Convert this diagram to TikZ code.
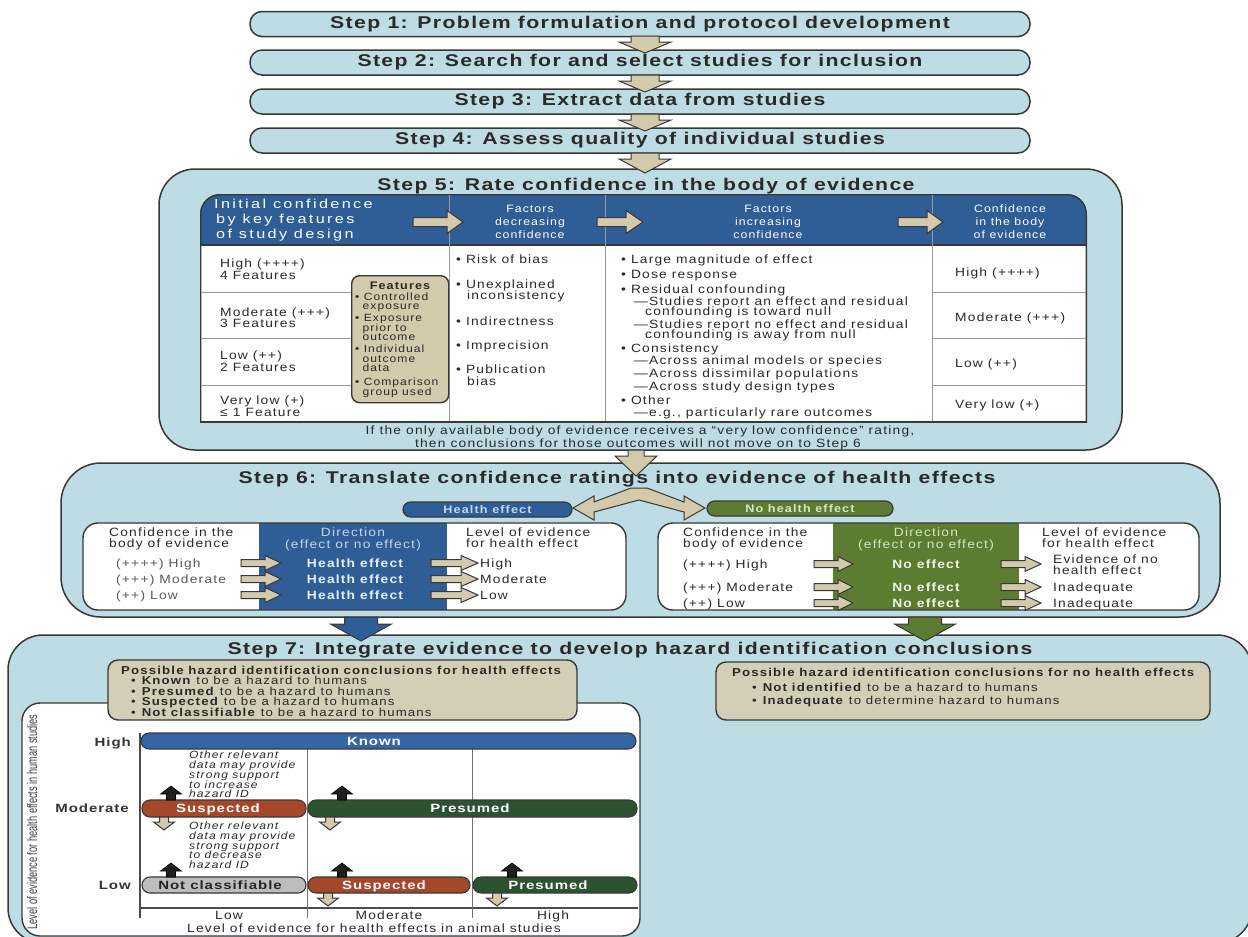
\documentclass[tikz,border=0pt]{standalone}
\usepackage{fontspec}
\setmainfont{Liberation Sans}
\newfontfamily\bodyf[FakeStretch=1.15,LetterSpace=10]{Liberation Sans}
\newfontfamily\headf[FakeStretch=1.25,LetterSpace=18]{Liberation Sans}
\newfontfamily\titlef[FakeStretch=1.25,LetterSpace=8]{Liberation Sans}
\newfontfamily\condf[FakeStretch=0.66]{Liberation Sans}
\usetikzlibrary{calc}
\definecolor{lblue}{HTML}{BDDCE3}
\definecolor{outl}{HTML}{383838}
\definecolor{tanc}{HTML}{D3C9AB}
\definecolor{tanbox}{HTML}{D5CEB6}
\definecolor{hblue}{HTML}{2F5D96}
\definecolor{kblue}{HTML}{3565A5}
\definecolor{ngreen}{HTML}{5C7C31}
\definecolor{sred}{HTML}{A5482A}
\definecolor{pgreen}{HTML}{2D5230}
\definecolor{ncgray}{HTML}{BDBDBD}
\definecolor{txt}{HTML}{2A2A2A}
\definecolor{divc}{HTML}{9A9A9A}
\definecolor{lhb}{HTML}{C4D6EC}
\definecolor{lhg}{HTML}{D8E4C4}
\newcommand\fsz[2]{\fontsize{#1}{#2}\selectfont}
\newcounter{lnc}
\newcommand\Ln[4][]{\stepcounter{lnc}\node[anchor=base west,inner sep=0,#1] (ln\arabic{lnc}) at (#2,#3) {#4};}
\newcommand\Lc[4][]{\stepcounter{lnc}\node[anchor=base,inner sep=0,#1] (ln\arabic{lnc}) at (#2,#3) {#4};}
\newcommand\Lr[4][]{\stepcounter{lnc}\node[anchor=base east,inner sep=0,#1] (ln\arabic{lnc}) at (#2,#3) {#4};}
\newcommand\VArr[7]{\draw[#1] (#2-#5,#3) -- (#2+#5,#3) -- (#2+#5,#4) -- (#2+#6,#4) -- (#2,#7) -- (#2-#6,#4) -- (#2-#5,#4) -- cycle;}
\newcommand\HArr[7]{\draw[#1] (#3,#2-#5) -- (#4,#2-#5) -- (#4,#2-#6) -- (#7,#2) -- (#4,#2+#6) -- (#4,#2+#5) -- (#3,#2+#5) -- cycle;}
\tikzset{
  cont/.style={fill=lblue, draw=outl, line width=1.5, inner sep=0},
  pill/.style={fill=lblue, draw=outl, line width=1.5, rounded corners=12, minimum width=780, minimum height=25, inner sep=0, font=\titlef\bfseries\fsz{17}{17}, text=txt},
  tanarr/.style={fill=tanc, draw=outl, line width=1},
  blkarr/.style={fill=black!88, draw=black, line width=0.6},
  tbox/.style={fill=tanbox, draw=outl, line width=1.4, rounded corners=10, inner sep=0},
  cpill/.style={draw=outl, line width=1.1, rounded corners=8, inner sep=0},
  hpill/.style={draw=outl, line width=1.2, rounded corners=7.5, inner sep=0, minimum height=15},
  ttl/.style={font=\titlef\bfseries\fsz{17}{17}, text=txt},
  bt/.style={font=\bodyf\fsz{12}{12}, text=txt},
  hd/.style={font=\bodyf\fsz{10.7}{11}, text=white},
  ft/.style={font=\bodyf\fsz{10.5}{10}, text=txt},
  tb/.style={font=\bodyf\fsz{11.5}{11}, text=txt},
  it/.style={font=\bodyf\itshape\fsz{10.5}{10}, text=txt},
  pl/.style={font=\titlef\bfseries\fsz{12}{12}, text=white},
}
\begin{document}
\begin{tikzpicture}[x=1pt,y=-1pt]
\fill[white] (0,0) rectangle (1248,937);
\useasboundingbox (0,0) rectangle (1248,937);

% ---------- containers
\node[cont, rounded corners=35, minimum width=1244, minimum height=308] (c7) at (630,789) {};
\node[cont, rounded corners=40, minimum width=1159, minimum height=154] (c6) at (640.5,540) {};
\node[cont, rounded corners=36, minimum width=963, minimum height=281] (c5) at (640.5,309.5) {};

% ---------- steps 1-4
\node[pill] (s1) at (640,24) {Step 1: Problem formulation and protocol development};
\node[pill] (s2) at (640,62.5) {Step 2: Search for and select studies for inclusion};
\node[pill] (s3) at (640,101.5) {Step 3: Extract data from studies};
\node[pill] (s4) at (640,140.5) {Step 4: Assess quality of individual studies};
\VArr{tanarr}{645}{36}{42}{14}{26}{53}
\VArr{tanarr}{645}{75}{81}{14}{26}{92}
\VArr{tanarr}{645}{114}{120}{14}{26}{131}
\VArr{tanarr}{645}{153}{159}{14}{26}{173}

% ---------- step 5
\Lc[ttl]{646}{190}{Step 5: Rate confidence in the body of evidence}
\begin{scope}
  \clip (150,150) rectangle (1100,422);
  \clip[rounded corners=20] (200,194) rectangle (1087,480);
  \fill[white] (200,194) rectangle (1087,422);
  \fill[hblue] (200,194) rectangle (1087,245);
  \draw[outl, line width=2.8, rounded corners=20] (200,194) rectangle (1087,480);
\end{scope}
\draw[outl, line width=1.4] (200,422) -- (1087,422);
\draw[outl, line width=1.2] (200,245) -- (1087,245);
\foreach \xx in {449,605,932} \draw[divc, line width=1] (\xx,195) -- (\xx,421);
\foreach \yy in {292,338,385} {\draw[divc, line width=1] (201,\yy) -- (351,\yy); \draw[divc, line width=1] (932,\yy) -- (1086,\yy);}
% header texts
\Ln[font=\headf\fsz{13}{13}, text=white]{214}{208}{Initial confidence}
\Ln[font=\headf\fsz{13}{13}, text=white]{216}{223.5}{by key features}
\Ln[font=\headf\fsz{13}{13}, text=white]{216}{238.5}{of study design}
\Lc[hd]{530}{212.5}{Factors}
\Lc[hd]{530}{225.5}{decreasing}
\Lc[hd]{530}{238}{confidence}
\Lc[hd]{768}{212.5}{Factors}
\Lc[hd]{768}{225.5}{increasing}
\Lc[hd]{768}{238}{confidence}
\Lc[hd]{1010}{212.5}{Confidence}
\Lc[hd]{1010}{225.5}{in the body}
\Lc[hd]{1010}{238}{of evidence}
\HArr{tanarr}{222}{413}{447}{4.5}{11.5}{463}
\HArr{tanarr}{222}{597}{626}{4.5}{11.5}{643}
\HArr{tanarr}{222}{898}{927}{4.5}{11.5}{943}
% column 1
\Ln[bt]{220}{267}{High (++++)}
\Ln[bt]{220}{279}{4 Features}
\Ln[bt]{220}{316}{Moderate (+++)}
\Ln[bt]{220}{327}{3 Features}
\Ln[bt]{220}{359}{Low (++)}
\Ln[bt]{220}{371}{2 Features}
\Ln[bt]{220}{404}{Very low (+)}
\Ln[bt]{220}{416}{≤ 1 Feature}
\node[tbox, rounded corners=8, fill=tanc, minimum width=97, minimum height=127, anchor=north west] (feat) at (351,275) {};
\Lc[font=\bodyf\bfseries\fsz{11}{11}, text=txt]{400}{289}{Features}
\Ln[ft]{355}{300}{• Controlled}
\Ln[ft]{362.5}{309.5}{exposure}
\Ln[ft]{355}{321.5}{• Exposure}
\Ln[ft]{362.5}{331}{prior to}
\Ln[ft]{362.5}{340.5}{outcome}
\Ln[ft]{355}{352.5}{• Individual}
\Ln[ft]{362.5}{362}{outcome}
\Ln[ft]{362.5}{371.5}{data}
\Ln[ft]{355}{385}{• Comparison}
\Ln[ft]{362.5}{395.5}{group used}
% column 2
\Ln[bt]{456}{263}{• Risk of bias}
\Ln[bt]{456}{288}{• Unexplained}
\Ln[bt]{467}{299.5}{inconsistency}
\Ln[bt]{456}{325}{• Indirectness}
\Ln[bt]{456}{349}{• Imprecision}
\Ln[bt]{456}{373}{• Publication}
\Ln[bt]{467}{385.5}{bias}
% column 3
\Ln[bt]{621}{263}{• Large magnitude of effect}
\Ln[bt]{621}{278}{• Dose response}
\Ln[bt]{621}{293}{• Residual confounding}
\Ln[bt]{634}{305}{—Studies report an effect and residual}
\Ln[bt]{645}{315}{confounding is toward null}
\Ln[bt]{634}{328}{—Studies report no effect and residual}
\Ln[bt]{645}{338.5}{confounding is away from null}
\Ln[bt]{621}{352}{• Consistency}
\Ln[bt]{634}{364}{—Across animal models or species}
\Ln[bt]{634}{377}{—Across dissimilar populations}
\Ln[bt]{634}{390.5}{—Across study design types}
\Ln[bt]{621}{404.5}{• Other}
\Ln[bt]{634}{416}{—e.g., particularly rare outcomes}
% column 4
\Ln[bt]{955}{276}{High (++++)}
\Ln[bt]{955}{321}{Moderate (+++)}
\Ln[bt]{955}{367}{Low (++)}
\Ln[bt]{955}{408}{Very low (+)}
% footer
\Lc[bt]{640}{434}{If the only available body of evidence receives a “very low confidence” rating,}
\Lc[bt]{638}{447}{then conclusions for those outcomes will not move on to Step 6}

% ---------- step 5 -> 6
\VArr{tanarr}{636}{450}{456}{8}{21}{476}

% ---------- step 6
\Lc[ttl]{617}{483}{Step 6: Translate confidence ratings into evidence of health effects}
\draw[tanarr] (631,488) -- (647,488) -- (684,502) -- (684,496) -- (705,508) -- (684,520) -- (684,512) -- (639,500) -- (594,512) -- (594,520) -- (573,508) -- (594,496) -- (594,502) -- cycle;
\node[hpill, fill=hblue, minimum width=169, font=\bodyf\bfseries\fsz{11}{11}, text=lhb] (he) at (487.5,509.5) {Health effect};
\node[hpill, fill=ngreen, minimum width=186, font=\bodyf\bfseries\fsz{11}{11}, text=lhg] (nhe) at (800,508.5) {No health effect};
% left inner box
\fill[white, rounded corners=15] (83,523) rectangle (626,610);
\fill[hblue] (259,523) rectangle (447,610);
\draw[outl, line width=1.4, rounded corners=15] (83,523) rectangle (626,610);
\Ln[bt]{109}{536}{Confidence in the}
\Ln[bt]{109}{547.5}{body of evidence}
\Ln[bt, text=black!65]{116}{567}{(++++) High}
\Ln[bt, text=black!65]{116}{583}{(+++) Moderate}
\Ln[bt, text=black!65]{116}{599}{(++) Low}
\Lc[bt, text=lhb]{353}{536}{Direction}
\Lc[bt, text=lhb]{353}{548}{(effect or no effect)}
\foreach \yy/\bb in {563/567,579/583,595/599} {
  \Lc[font=\bodyf\bfseries\fsz{12}{12}, text=lhb!40!white]{355}{\bb}{Health effect}
  \HArr{tanarr}{\yy}{241}{265}{3.5}{7.5}{281}
  \HArr{tanarr}{\yy}{431}{461}{3.5}{7.5}{478}
}
\Ln[bt]{466}{536}{Level of evidence}
\Ln[bt]{466}{547.5}{for health effect}
\Ln[bt]{480}{567}{High}
\Ln[bt]{480}{583}{Moderate}
\Ln[bt]{480}{599}{Low}
% right inner box
\fill[white, rounded corners=15] (658,523) rectangle (1199,610);
\fill[ngreen] (833,523) rectangle (1019,610);
\draw[outl, line width=1.4, rounded corners=15] (658,523) rectangle (1199,610);
\Ln[bt]{683}{536}{Confidence in the}
\Ln[bt]{683}{547.5}{body of evidence}
\Ln[bt]{683}{568}{(++++) High}
\Ln[bt]{683}{591}{(+++) Moderate}
\Ln[bt]{683}{607}{(++) Low}
\Lc[bt, text=lhg]{926}{536}{Direction}
\Lc[bt, text=lhg]{926}{548}{(effect or no effect)}
\foreach \yy/\bb in {564/568,587/591,603/607} {
  \Lc[font=\bodyf\bfseries\fsz{12}{12}, text=lhg!40!white]{926}{\bb}{No effect}
  \HArr{tanarr}{\yy}{814}{838}{3.5}{7.5}{853}
  \HArr{tanarr}{\yy}{1001}{1025}{3.5}{7.5}{1041}
}
\Ln[bt]{1042}{536}{Level of evidence}
\Ln[bt]{1042}{547.5}{for health effect}
\Ln[bt]{1053}{563}{Evidence of no}
\Ln[bt]{1053}{574}{health effect}
\Ln[bt]{1053}{591}{Inadequate}
\Ln[bt]{1053}{607}{Inadequate}

% ---------- step 6 -> 7
\VArr{fill=hblue, draw=outl, line width=1}{361}{617}{624}{16.5}{30.5}{641}
\VArr{fill=ngreen, draw=outl, line width=1}{925}{617}{624}{16.5}{30.5}{641}

% ---------- step 7
\Lc[ttl]{630}{654}{Step 7: Integrate evidence to develop hazard identification conclusions}
\draw[fill=white, draw=outl, line width=1.4, rounded corners=18] (22,703) rectangle (640,936);
\node[tbox, minimum width=469, minimum height=60] (tb1) at (342.5,690) {};
\Ln[tb, font=\bodyf\bfseries\fsz{11.5}{11}]{121}{674}{Possible hazard identification conclusions for health effects}
\Ln[tb]{131}{684.5}{• \textbf{Known} to be a hazard to humans}
\Ln[tb]{131}{695}{• \textbf{Presumed} to be a hazard to humans}
\Ln[tb]{131}{705.5}{• \textbf{Suspected} to be a hazard to humans}
\Ln[tb]{131}{716}{• \textbf{Not classifiable} to be a hazard to humans}
\node[tbox, minimum width=494, minimum height=58] (tb2) at (963,691) {};
\Ln[tb, font=\bodyf\bfseries\fsz{11.5}{11}]{732}{676}{Possible hazard identification conclusions for no health effects}
\Ln[tb]{752}{691}{• \textbf{Not identified} to be a hazard to humans}
\Ln[tb]{752}{704}{• \textbf{Inadequate} to determine hazard to humans}
% chart
\node[rotate=90, font=\condf\fsz{14}{14}, text=black!75, inner sep=0] (ylab) at (32,822) {Level of evidence for health effects in human studies};
\draw[black!70, line width=1.1] (140,733) -- (140,918);
\draw[black!70, line width=1.1] (140,908) -- (638,908);
\draw[black!55, line width=1] (307,749) -- (307,918);
\draw[black!55, line width=1] (472,749) -- (472,918);
\Lr[font=\titlef\bfseries\fsz{12}{12}, text=black!80]{131}{746}{High}
\Lr[font=\titlef\bfseries\fsz{12}{12}, text=black!80]{129}{812.5}{Moderate}
\Lr[font=\titlef\bfseries\fsz{12}{12}, text=black!80]{131}{889}{Low}
\Lc[bt]{229}{919}{Low}
\Lc[bt]{389}{919}{Moderate}
\Lc[bt]{553}{919}{High}
\Lc[bt]{374}{932}{Level of evidence for health effects in animal studies}
% bars
\node[cpill, fill=kblue, minimum width=495, minimum height=16] (known) at (388.5,741) {};
\node[cpill, fill=sred, minimum width=164, minimum height=17] (susm) at (224,808.5) {};
\node[cpill, fill=pgreen, minimum width=329, minimum height=17] (prem) at (472.5,808.5) {};
\node[cpill, fill=ncgray, minimum width=164, minimum height=16] (ncl) at (224,885) {};
\node[cpill, fill=sred, minimum width=162, minimum height=16] (susl) at (389,885) {};
\node[cpill, fill=pgreen, minimum width=164, minimum height=16] (prel) at (555,885) {};
\Lc[pl]{374}{745.3}{Known}
\Lc[pl]{218}{812.8}{Suspected}
\Lc[pl]{470}{812.8}{Presumed}
\Lc[pl, text=black!85]{220}{889.3}{Not classifiable}
\Lc[pl]{384}{889.3}{Suspected}
\Lc[pl]{548}{889.3}{Presumed}
% small arrows
\VArr{blkarr}{171}{800}{794}{4.5}{10.5}{786}
\VArr{blkarr}{342}{800}{794}{4.5}{10.5}{786}
\VArr{blkarr}{171}{877}{871}{4.5}{10.5}{863}
\VArr{blkarr}{342}{877}{871}{4.5}{10.5}{863}
\VArr{blkarr}{512}{877}{871}{4.5}{10.5}{863}
\VArr{tanarr}{164}{817}{822}{4.5}{10.5}{830}
\VArr{tanarr}{330}{817}{822}{4.5}{10.5}{830}
\VArr{tanarr}{328}{893}{898}{4.5}{10.5}{906}
\VArr{tanarr}{497}{893}{898}{4.5}{10.5}{906}
% italic notes
\Ln[it]{189}{758.5}{Other relevant}
\Ln[it]{189}{768.5}{data may provide}
\Ln[it]{189}{778.5}{strong support}
\Ln[it]{189}{788}{to increase}
\Ln[it]{189}{797.5}{hazard ID}
\Ln[it]{189}{829.5}{Other relevant}
\Ln[it]{189}{839.5}{data may provide}
\Ln[it]{189}{849}{strong support}
\Ln[it]{189}{858.5}{to decrease}
\Ln[it]{189}{868}{hazard ID}
\end{tikzpicture}
\end{document}
